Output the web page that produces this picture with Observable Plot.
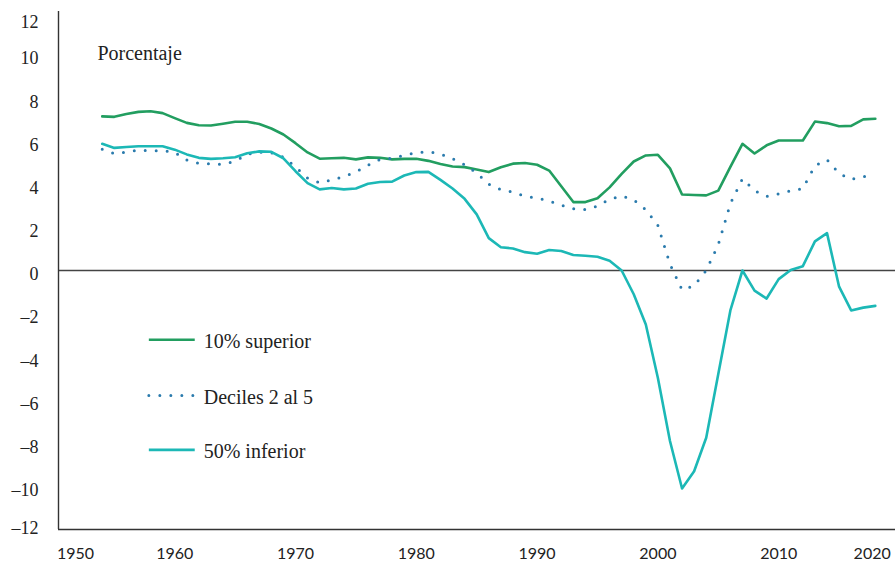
<!DOCTYPE html>
<html>
<head>
<meta charset="utf-8">
<script src="https://cdn.jsdelivr.net/npm/d3@7"></script>
<script src="https://cdn.jsdelivr.net/npm/@observablehq/plot@0.6"></script>
<style>
  html, body { margin: 0; padding: 0; background: #fff; }
  #chart svg { display: block; }
</style>
</head>
<body>
<div id="chart"></div>
<script>
// ---- Data ----
const years = d3.range(1954, 2019); // 1954..2018

const top10 = [
  7.14, 7.12, 7.25, 7.35, 7.38, 7.29, 7.06, 6.84, 6.73, 6.72,
  6.80, 6.89, 6.89, 6.79, 6.58, 6.30, 5.90, 5.47, 5.18, 5.20,
  5.22, 5.15, 5.24, 5.22, 5.15, 5.17, 5.18, 5.08, 4.93, 4.82,
  4.79, 4.68, 4.56, 4.78, 4.95, 4.98, 4.90, 4.63, 3.90, 3.17,
  3.17, 3.35, 3.85, 4.48, 5.05, 5.33, 5.36, 4.73, 3.52, 3.50,
  3.48, 3.70, 4.80, 5.87, 5.42, 5.80, 6.02, 6.02, 6.02, 6.90,
  6.83, 6.68, 6.70, 7.00, 7.03
];

const deciles2to5 = [
  5.62, 5.42, 5.48, 5.58, 5.55, 5.55, 5.47, 5.12, 4.96, 4.94,
  4.92, 5.07, 5.38, 5.48, 5.46, 5.25, 4.80, 4.28, 4.06, 4.20,
  4.35, 4.57, 4.88, 5.15, 5.20, 5.33, 5.47, 5.50, 5.40, 5.18,
  4.90, 4.52, 4.00, 3.74, 3.63, 3.45, 3.35, 3.22, 3.03, 2.86,
  2.82, 2.98, 3.30, 3.45, 3.28, 2.82, 2.08, 0.30, -0.90, -0.70,
  0.00, 1.20, 3.10, 4.25, 3.70, 3.43, 3.55, 3.69, 3.80, 4.85,
  5.13, 4.50, 4.22, 4.35, 4.45
];

const bottom50 = [
  5.87, 5.68, 5.72, 5.76, 5.76, 5.76, 5.60, 5.38, 5.22, 5.17,
  5.20, 5.25, 5.43, 5.52, 5.50, 5.20, 4.60, 4.05, 3.76, 3.82,
  3.76, 3.80, 4.02, 4.10, 4.12, 4.40, 4.56, 4.57, 4.20, 3.80,
  3.32, 2.60, 1.50, 1.08, 1.02, 0.85, 0.78, 0.95, 0.90, 0.72,
  0.68, 0.64, 0.45, 0.00, -1.10, -2.50, -4.98, -7.90, -10.10, -9.30,
  -7.75, -4.80, -1.85, 0.00, -0.93, -1.30, -0.40, 0.02, 0.20, 1.35,
  1.73, -0.75, -1.85, -1.72, -1.64
];

const seriesLabels = ["10% superior", "Deciles 2 al 5", "50% inferior"];
const yTicks = [-10, -8, -6, -4, -2, 0, 2, 4, 6, 8, 10];
const xTicks = [1960, 1970, 1980, 1990, 2000, 2010];
const unitLabel = "Porcentaje";

// ---- Styles / layout ----
const colors = ["#229e60", "#2a7bad", "#1cb8b6"];
const serif = "'Liberation Serif', 'DejaVu Serif', serif";
const sans = "Lato, 'Open Sans', sans-serif";
const ink = "#222";
const yearFmt = d => String(d);
const numFmt = d => (d < 0 ? "\u2013" + Math.abs(d) : String(d));

const rows = (vals) => years.map((yr, i) => ({year: yr, value: vals[i]}));
const dTop = rows(top10), dDec = rows(deciles2to5), dBot = rows(bottom50);

const xDomain = [1950.38, 2019.67];
const legendX1 = 1957.9, legendX2 = 1961.7, legendTextX = 1962.4;
const legendY = [-3.21, -5.79, -8.31];
const legend = seriesLabels.map((label, i) => ({label, y: legendY[i], color: colors[i]}));

const yAxisOpts = {tickSize: 0, tickPadding: 20, fontSize: 18, fontFamily: serif, fill: ink, label: null, tickFormat: numFmt};
const xAxisOpts = {tickSize: 0, tickPadding: 18, fontSize: 16, fontFamily: sans, fill: ink, label: null, tickFormat: yearFmt};

const chart = Plot.plot({
  width: 895,
  height: 562,
  marginLeft: 58,
  marginRight: 0,
  marginTop: 11,
  marginBottom: 33,
  x: {domain: xDomain},
  y: {domain: [-12, 12]},
  marks: [
    // y axis labels
    Plot.axisY(yTicks, {...yAxisOpts, dy: 4}),
    Plot.axisY([12], {...yAxisOpts, dy: 11}),
    Plot.axisY([-12], {...yAxisOpts, dy: -1}),
    // x axis labels
    Plot.axisX(xTicks, {...xAxisOpts}),
    Plot.axisX([1950], {...xAxisOpts, dx: 21.6}),
    Plot.axisX([2020], {...xAxisOpts, dx: -27.3}),
    // frame lines
    Plot.ruleY([0], {stroke: "#444", strokeWidth: 1.4}),
    Plot.ruleY([-12], {stroke: "#333", strokeWidth: 1.4}),
    Plot.ruleX([xDomain[0]], {stroke: "#333", strokeWidth: 1.4}),
    // series
    Plot.line(dTop, {x: "year", y: "value", stroke: colors[0], strokeWidth: 2.6}),
    Plot.line(dDec, {x: "year", y: "value", stroke: colors[1], strokeWidth: 3, strokeDasharray: "0 11", strokeLinecap: "round"}),
    Plot.line(dBot, {x: "year", y: "value", stroke: colors[2], strokeWidth: 2.6}),
    // unit label
    Plot.text([unitLabel], {x: 1953.6, y: 10.06, text: d => d, textAnchor: "start", fontSize: 20, fontFamily: serif, fill: ink}),
    // legend
    Plot.ruleY(legend.filter((d, i) => i !== 1), {y: "y", x1: legendX1, x2: legendX2, stroke: "color", strokeWidth: 2.6}),
    Plot.ruleY(legend.filter((d, i) => i === 1), {y: "y", x1: legendX1, x2: legendX2 + 0.1, stroke: "color", strokeWidth: 3, strokeDasharray: "0 11", strokeLinecap: "round"}),
    Plot.text(legend, {x: legendTextX, y: "y", text: "label", textAnchor: "start", fontSize: 20, fontFamily: serif, fill: ink, dy: 2})
  ]
});

document.getElementById("chart").appendChild(chart);
</script>
</body>
</html>
